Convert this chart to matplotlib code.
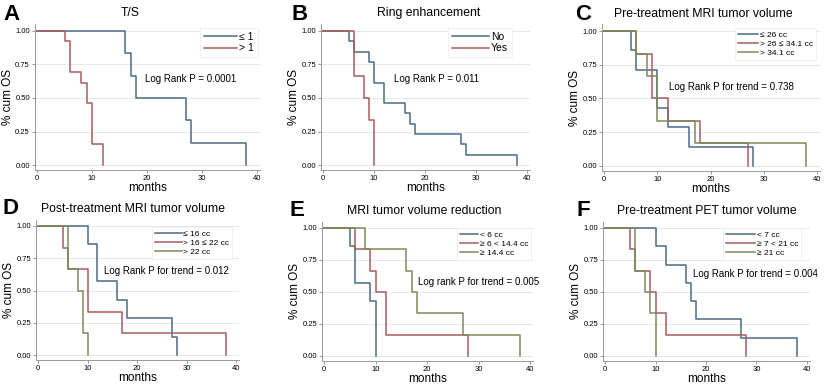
import matplotlib
matplotlib.use('Agg')
import matplotlib.pyplot as plt

plt.rcParams['font.family'] = ['Liberation Sans', 'DejaVu Sans']

W, H = 825, 385
BLUE = '#4b6a8a'
RED = '#a65c5c'
GREEN = '#7a8c5a'

# event times (months) and survival after each event
a_le1_t = [16, 17, 18, 27, 28, 38]
a_le1_s = [0.833, 0.667, 0.5, 0.333, 0.167, 0.0]
a_gt1_t = [5, 6, 8, 9, 10, 12]
a_gt1_s = [0.923, 0.692, 0.615, 0.462, 0.154, 0.0]

b_no_t = [5, 6, 9, 10, 12, 16, 17, 18, 27, 28, 38]
b_no_s = [0.923, 0.846, 0.769, 0.615, 0.462, 0.385, 0.308, 0.231, 0.154, 0.077, 0.0]
b_yes_t = [6, 8, 9, 10]
b_yes_s = [0.667, 0.5, 0.333, 0.0]

c_low_t = [5, 6, 10, 12, 16, 28]
c_low_s = [0.857, 0.714, 0.429, 0.286, 0.143, 0.0]
c_mid_t = [6, 9, 12, 18, 27]
c_mid_s = [0.833, 0.5, 0.333, 0.167, 0.0]
c_high_t = [6, 8, 10, 17, 38]
c_high_s = [0.833, 0.667, 0.333, 0.167, 0.0]

d_low_t = [10, 12, 16, 18, 27, 28]
d_low_s = [0.857, 0.571, 0.429, 0.286, 0.143, 0.0]
d_mid_t = [5, 6, 10, 17, 38]
d_mid_s = [0.833, 0.667, 0.333, 0.167, 0.0]
d_high_t = [6, 8, 9, 10]
d_high_s = [0.667, 0.5, 0.167, 0.0]

e_low_t = [5, 6, 9, 10]
e_low_s = [0.857, 0.571, 0.429, 0.0]
e_mid_t = [6, 9, 10, 12, 28]
e_mid_s = [0.833, 0.667, 0.5, 0.167, 0.0]
e_high_t = [8, 16, 17, 18, 27, 38]
e_high_s = [0.833, 0.667, 0.5, 0.333, 0.167, 0.0]

f_low_t = [10, 12, 16, 17, 18, 27, 38]
f_low_s = [0.857, 0.714, 0.571, 0.429, 0.286, 0.143, 0.0]
f_mid_t = [5, 6, 9, 10, 12, 28]
f_mid_s = [0.833, 0.667, 0.5, 0.333, 0.167, 0.0]
f_high_t = [6, 8, 9, 10]
f_high_s = [0.667, 0.5, 0.333, 0.0]

XMIN, XMAX = -0.4, 40.6
YMIN, YMAX = -0.04, 1.05


def place(x0, x40, y1, y0):
    sx = (x40 - x0) / 40
    sy = y0 - y1
    left = x0 + XMIN * sx
    right = x0 + XMAX * sx
    top = y0 - YMAX * sy
    bottom = y0 - YMIN * sy
    return [left / W, 1 - bottom / H, (right - left) / W, (bottom - top) / H]


def km(ax, t, s, color, label):
    ax.step([0] + t, [1.0] + s, where='post', color=color, lw=1.1, label=label)


fig = plt.figure(figsize=(W / 100, H / 100), dpi=100)

panels = [
    dict(pos=(37, 257, 31, 165), letter='A', lpos=(12, 14), title='T/S', tpos=(130, 13),
         series=[(a_le1_t, a_le1_s, BLUE, '≤ 1'), (a_gt1_t, a_gt1_s, RED, '> 1')],
         text='Log Rank P = 0.0001', xy=(145, 79), leg=(200, 28), lfs=7.5, hl=3.2),
    dict(pos=(323, 527, 31, 165), letter='B', lpos=(300, 14), title='Ring enhancement', tpos=(429, 13),
         series=[(b_no_t, b_no_s, BLUE, 'No'), (b_yes_t, b_yes_s, RED, 'Yes')],
         text='Log Rank P = 0.011', xy=(394, 79), leg=(448, 28), lfs=7.5, hl=3.6),
    dict(pos=(604, 817, 31, 166), letter='C', lpos=(583, 14), title='Pre-treatment MRI tumor volume', tpos=(703, 14),
         series=[(c_low_t, c_low_s, BLUE, '≤ 26 cc'), (c_mid_t, c_mid_s, RED, '> 26 ≤ 34.1 cc'),
                 (c_high_t, c_high_s, GREEN, '> 34.1 cc')],
         text='Log Rank P for trend = 0.738', xy=(669, 87), leg=(735, 28), lfs=6, hl=2.4),
    dict(pos=(38, 236, 226, 355), letter='D', lpos=(10, 209), title='Post-treatment MRI tumor volume', tpos=(133, 209),
         series=[(d_low_t, d_low_s, BLUE, '≤ 16 cc'), (d_mid_t, d_mid_s, RED, '> 16 ≤ 22 cc'),
                 (d_high_t, d_high_s, GREEN, '> 22 cc')],
         text='Log Rank P for trend = 0.012', xy=(104, 271), leg=(152, 227), lfs=6, hl=3.2),
    dict(pos=(324, 530, 228, 356), letter='E', lpos=(297, 211), title='MRI tumor volume reduction', tpos=(424, 211),
         series=[(e_low_t, e_low_s, BLUE, '< 6 cc'), (e_mid_t, e_mid_s, RED, '≥ 6 < 14.4 cc'),
                 (e_high_t, e_high_s, GREEN, '≥ 14.4 cc')],
         text='Log rank P for trend = 0.005', xy=(418, 282), leg=(457, 228), lfs=6, hl=2.2),
    dict(pos=(605, 807, 228, 356), letter='F', lpos=(583, 211), title='Pre-treatment PET tumor volume', tpos=(707, 211),
         series=[(f_low_t, f_low_s, BLUE, '< 7 cc'), (f_mid_t, f_mid_s, RED, '≥ 7 < 21 cc'),
                 (f_high_t, f_high_s, GREEN, '≥ 21 cc')],
         text='Log Rank P for trend = 0.004', xy=(693, 274), leg=(723, 228), lfs=6, hl=3.5),
]

for p in panels:
    ax = fig.add_axes(place(*p['pos']))
    for t, s, c, lab in p['series']:
        km(ax, t, s, c, lab)
    ax.set_xlim(XMIN, XMAX)
    ax.set_ylim(YMIN, YMAX)
    ax.set_xticks([0, 10, 20, 30, 40])
    ax.set_yticks([0, 0.25, 0.5, 0.75, 1.0])
    ax.set_yticklabels(['0.00', '0.25', '0.50', '0.75', '1.00'])
    ax.tick_params(labelsize=5.5, length=2, width=0.6, color='#888888', pad=1.5)
    ax.grid(axis='y', color='#e8e8e8', lw=0.7)
    ax.set_axisbelow(True)
    for side in ['top', 'right']:
        ax.spines[side].set_visible(False)
    for side in ['left', 'bottom']:
        ax.spines[side].set_color('#999999')
        ax.spines[side].set_linewidth(0.7)
    ax.set_xlabel('months', fontsize=8.5, labelpad=0)
    ax.set_ylabel('% cum OS', fontsize=8.5, labelpad=1)
    fig.text(p['xy'][0] / W, 1 - p['xy'][1] / H, p['text'], fontsize=7, va='center', ha='left')
    fig.text(p['tpos'][0] / W, 1 - p['tpos'][1] / H, p['title'], fontsize=8.8, va='center', ha='center')
    fig.text(p['lpos'][0] / W, 1 - p['lpos'][1] / H, p['letter'], fontsize=16, fontweight='bold',
             va='center', ha='center')
    leg = ax.legend(loc='upper left', bbox_to_anchor=(p['leg'][0] / W, 1 - p['leg'][1] / H),
                    bbox_transform=fig.transFigure, fontsize=p['lfs'], handlelength=p['hl'],
                    handletextpad=0.2, labelspacing=0.15, borderpad=0.35, borderaxespad=0,
                    fancybox=False, framealpha=1, edgecolor='#eeeeee')
    leg.get_frame().set_linewidth(0.6)

plt.savefig('out.png', dpi=100)
